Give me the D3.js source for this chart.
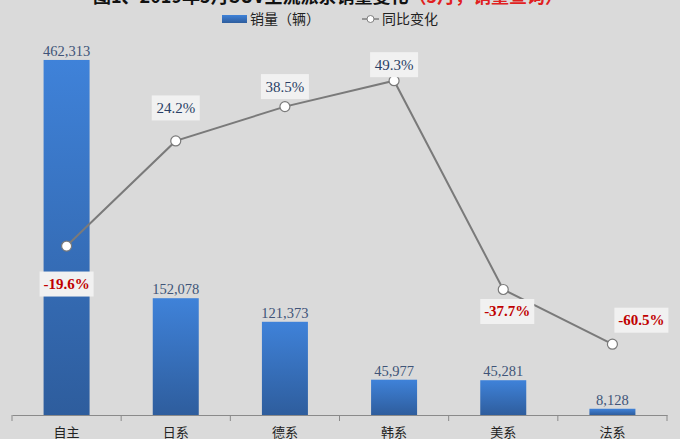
<!DOCTYPE html>
<html><head><meta charset="utf-8">
<script src="https://cdn.jsdelivr.net/npm/d3@7"></script>
<style>html,body{margin:0;padding:0;background:#dadada;}svg{display:block;}</style>
</head><body>
<svg id="c" width="680" height="439"></svg>
<script>
const categories = ["自主","日系","德系","韩系","美系","法系"];
const sales = [462313,152078,121373,45977,45281,8128];
const yoy = [-19.6,24.2,38.5,49.3,-37.7,-60.5];
const salesTicks = [0,100000,200000,300000,400000,500000];
const yoyTicks = [-90,-60,-30,0,30,60];
// label placement offsets (layout only)
const yoyLabelDx = [0,0,0,0,4,29];
const yoyLabelDy = [38,-33,-20,-16,22,-24];

const svg = d3.select("#c");
const W = 680, H = 439;
const margin = {top:31, bottom:24, left:12, right:13};
const x = d3.scaleBand().domain(categories).range([margin.left, W-margin.right]).paddingInner(0).paddingOuter(0);
const y = d3.scaleLinear().domain([0,500000]).range([H-margin.bottom, margin.top]);
const y2 = d3.scaleLinear().domain([-90,70]).range([H-margin.bottom, margin.top]);

const defs = svg.append("defs");
const g = defs.append("linearGradient").attr("id","bg").attr("x1",0).attr("y1",0).attr("x2",0).attr("y2",1);
g.append("stop").attr("offset","0%").attr("stop-color","#3f82d9");
g.append("stop").attr("offset","100%").attr("stop-color","#2e5d9d");

// title (partially cut at top, as in the reference)
const title = svg.append("text").attr("x",93).attr("y",3).attr("font-family","Noto Sans CJK SC").attr("font-size",18).attr("font-weight","bold");
title.append("tspan").attr("fill","#111").text("图1、2019年5月SUV主流派系销量变化");
title.append("tspan").attr("fill","#e02020").text("（5月，销量查询）");

// legend
const lg = svg.append("g").attr("font-family","Noto Sans CJK SC").attr("font-size",14).attr("fill","#222");
lg.append("rect").attr("x",222).attr("y",15).attr("width",25).attr("height",8).attr("fill","url(#bg)");
lg.append("text").attr("x",250).attr("y",24).text("销量（辆）");
lg.append("line").attr("x1",362).attr("x2",379).attr("y1",19).attr("y2",19).attr("stroke","#7f7f7f").attr("stroke-width",1.5);
lg.append("circle").attr("cx",370.5).attr("cy",19).attr("r",3.5).attr("fill","#fff").attr("stroke","#7f7f7f").attr("stroke-width",1);
lg.append("text").attr("x",382).attr("y",24).text("同比变化");

// bars
const bw = 46;
svg.append("g").selectAll("rect").data(categories).join("rect")
  .attr("x",d=>x(d)+x.bandwidth()/2-bw/2)
  .attr("y",(d,i)=>y(sales[i]))
  .attr("width",bw)
  .attr("height",(d,i)=>y(0)-y(sales[i]))
  .attr("fill","url(#bg)");

// bar labels
svg.append("g").selectAll("text").data(categories).join("text")
  .attr("x",d=>x(d)+x.bandwidth()/2)
  .attr("y",(d,i)=>y(sales[i])-4)
  .attr("text-anchor","middle")
  .attr("font-family","Liberation Serif").attr("font-size",14.5).attr("fill","#405478")
  .text((d,i)=>d3.format(",")(sales[i]));

// x axis
const xa = svg.append("g").attr("transform",`translate(0,${y(0)})`)
  .call(d3.axisBottom(x).tickSize(0).tickPadding(13));
xa.select(".domain").attr("stroke","#8a8a8a");
xa.selectAll("text").attr("font-family","Noto Sans CJK SC").attr("font-size",13).attr("fill","#222");
const bounds = categories.map(c=>x(c)).concat([x(categories[categories.length-1])+x.bandwidth()]);
xa.selectAll("line.bt").data(bounds).join("line").attr("class","bt")
  .attr("x1",d=>d).attr("x2",d=>d).attr("y1",0).attr("y2",6).attr("stroke","#8a8a8a");

// line
const cx = d=>x(d)+x.bandwidth()/2;
const line = d3.line().x((d,i)=>cx(categories[i])).y(d=>y2(d));
svg.append("path").datum(yoy).attr("d",line).attr("fill","none").attr("stroke","#7a7a7a").attr("stroke-width",2);
svg.append("g").selectAll("circle").data(yoy).join("circle")
  .attr("cx",(d,i)=>cx(categories[i])).attr("cy",d=>y2(d)).attr("r",5)
  .attr("fill","#fff").attr("stroke","#7a7a7a").attr("stroke-width",1.2);

// line labels
const ll = svg.append("g").selectAll("g").data(yoy).join("g")
  .attr("transform",(d,i)=>`translate(${cx(categories[i])+yoyLabelDx[i]},${y2(d)+yoyLabelDy[i]})`);
ll.append("rect").attr("x",d=>d<0?-27:-24).attr("y",-12.5).attr("width",d=>d<0?54:48).attr("height",25).attr("fill","#f1f1f1");
ll.append("text").attr("text-anchor","middle").attr("y",5)
  .attr("font-family","Liberation Serif").attr("font-size",15)
  .attr("font-weight",d=>d<0?"bold":"normal")
  .attr("fill",d=>d<0?"#c00000":"#2a3f66")
  .text(d=>d.toFixed(1)+"%");
</script>
</body></html>
